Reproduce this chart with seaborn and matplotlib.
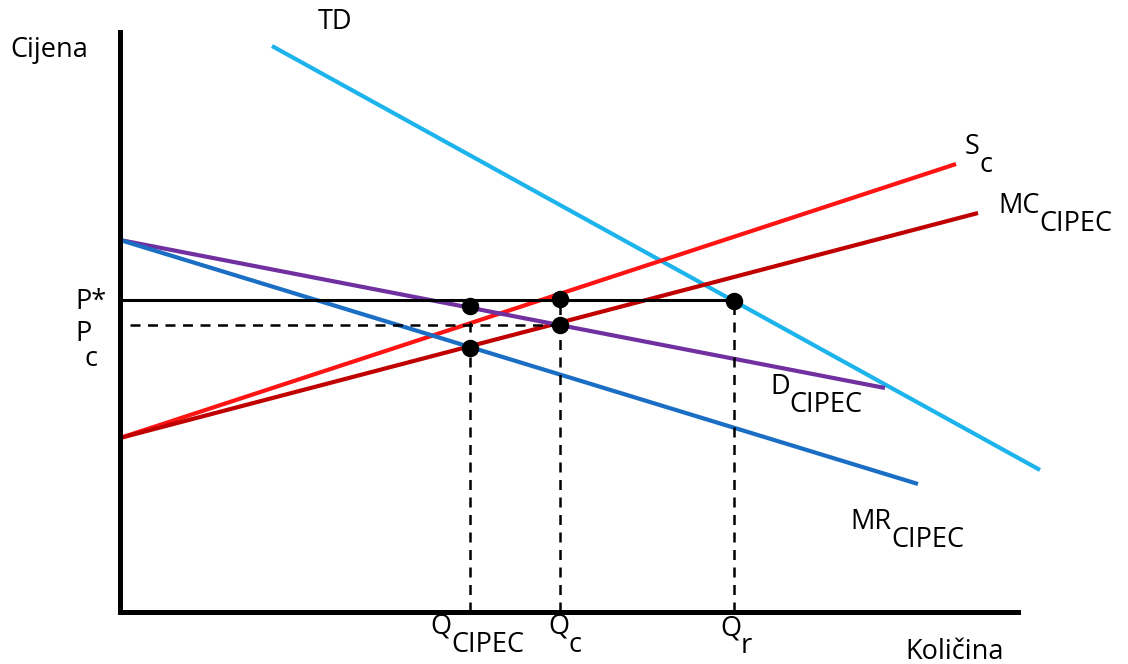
import pandas as pd
import matplotlib.pyplot as plt
import seaborn as sns

# curve endpoints (quantity, price), origin at the axes corner
td_q = [152, 920]
td_p = [566, 142]
sc_q = [0, 836]
sc_p = [174, 448]
mc_q = [0, 858]
mc_p = [174, 399]
d_q = [0, 765]
d_p = [372, 224]
mr_q = [0, 798]
mr_p = [372, 128]

p_star = 312
p_c = 287
q_cipec = 350
q_c = 440
q_r = 614

dot_q = [350, 350, 440, 440, 614]
dot_p = [306, 264, 313, 287, 311]

sns.set_style("white")
plt.rcParams['font.family'] = ['Open Sans', 'DejaVu Sans']
plt.rcParams['text.color'] = 'black'

fig = plt.figure(figsize=(11.28, 6.64), dpi=100)
ax = fig.add_axes([120 / 1128, 52 / 664, 898 / 1128, 580 / 664])
ax.set_xlim(0, 898)
ax.set_ylim(0, 580)
ax.set_xticks([])
ax.set_yticks([])
for s in ['top', 'right']:
    ax.spines[s].set_visible(False)
for s in ['left', 'bottom']:
    ax.spines[s].set_linewidth(3.6)
    ax.spines[s].set_color('black')

curves = [
    (td_q, td_p, '#1db4ec'),
    (sc_q, sc_p, '#ff1414'),
    (mc_q, mc_p, '#c00000'),
    (d_q, d_p, '#7030a0'),
    (mr_q, mr_p, '#1a6fc4'),
]
for q, p, col in curves:
    df = pd.DataFrame({'q': q, 'p': p})
    sns.lineplot(data=df, x='q', y='p', color=col, linewidth=3.0, ax=ax,
                 clip_on=False, solid_capstyle='butt')

# price lines
ax.plot([0, q_r], [p_star, p_star], color='black', linewidth=2.2)
ax.plot([10, q_c], [p_c, p_c], color='black', linewidth=1.8, linestyle=(0, (4, 3)))
for q, top in [(q_cipec, 306), (q_c, 313), (q_r, 311)]:
    ax.plot([q, q], [0, top], color='black', linewidth=1.8, linestyle=(0, (4, 3)))

dots = pd.DataFrame({'q': dot_q, 'p': dot_p})
sns.scatterplot(data=dots, x='q', y='p', color='black', s=135, ax=ax,
                edgecolor='black', zorder=5, clip_on=False)
ax.set_xlabel('')
ax.set_ylabel('')

fs = 19.5


def label(x, y, main, sub=None, dy=-3):
    t = ax.text(x, y, main, fontsize=fs, ha='left', va='center', color='black')
    if sub:
        ax.annotate(sub, xy=(1, 0), xycoords=t, xytext=(0, dy),
                    textcoords='offset points', fontsize=fs, ha='left',
                    va='center', color='black')
    return t


label(-110, 562, 'Cijena')
label(198, 590, 'TD')
label(845, 465, 'S', 'c')
label(878, 406, 'MC', 'CIPEC')
label(-45, 310, 'P*')
ax.text(-45, 278, 'P', fontsize=fs, ha='left', va='center', color='black')
ax.text(-36, 253, 'c', fontsize=fs, ha='left', va='center', color='black')
label(650, 225, 'D', 'CIPEC')
label(730, 90, 'MR', 'CIPEC')
label(310, -15, 'Q', 'CIPEC')
label(428, -15, 'Q', 'c')
label(600, -16, 'Q', 'r')
label(785, -40, 'Količina')

fig.savefig('out.png', dpi=100)
